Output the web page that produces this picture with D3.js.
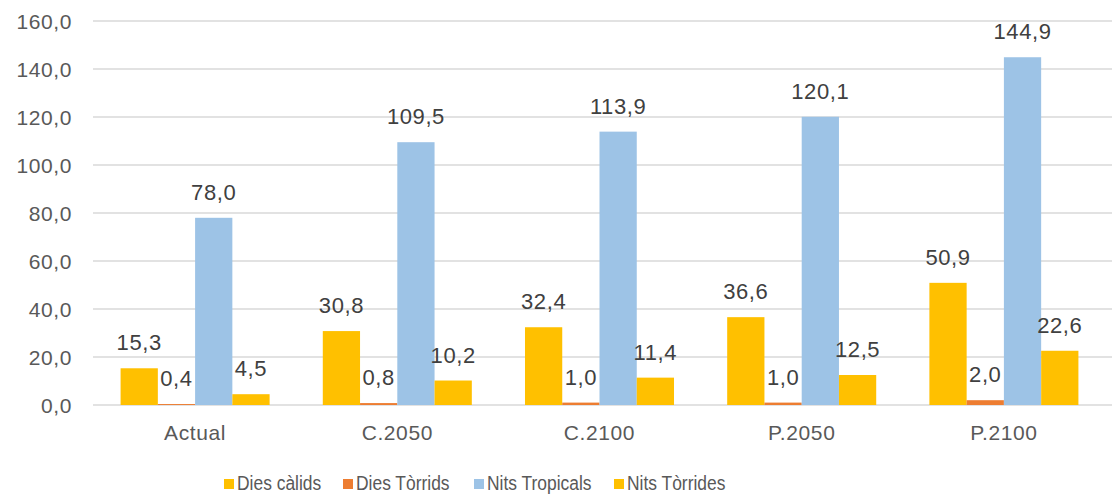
<!DOCTYPE html>
<html lang="ca">
<head>
<meta charset="UTF-8">
<script src="https://d3js.org/d3.v7.min.js"></script>
<style>
  body { margin: 0; background: #fff; }
  svg { display: block; font-family: "Liberation Sans", Arial, sans-serif; }
</style>
</head>
<body>
<svg width="1114" height="496"></svg>
<script>
const categories = ["Actual", "C.2050", "C.2100", "P.2050", "P.2100"];
const seriesNames = ["Dies càlids", "Dies Tòrrids", "Nits Tropicals", "Nits Tòrrides"];
const diesCalids = [15.3, 30.8, 32.4, 36.6, 50.9];
const diesTorrids = [0.4, 0.8, 1.0, 1.0, 2.0];
const nitsTropicals = [78.0, 109.5, 113.9, 120.1, 144.9];
const nitsTorrides = [4.5, 10.2, 11.4, 12.5, 22.6];
const yTicks = [0, 20, 40, 60, 80, 100, 120, 140, 160];

const seriesValues = [diesCalids, diesTorrids, nitsTropicals, nitsTorrides];
const colors = ["#FFC000", "#ED7D31", "#9DC3E6", "#FFC000"];
const textColor = "#595959";

const svg = d3.select("svg");
const locale = d3.formatLocale({ decimal: ",", thousands: ".", grouping: [3] });
const fmt = locale.format(".1f");

const x0 = d3.scaleBand().domain(categories).range([94, 1105]);
const bw = x0.bandwidth();
const x1 = d3.scaleBand().domain(seriesNames).range([bw * 0.1315, bw * 0.8685]);
const y = d3.scaleLinear().domain([0, 160]).range([405, 21]);

// gridlines
svg.append("g")
  .selectAll("line")
  .data(yTicks)
  .join("line")
  .attr("x1", 93).attr("x2", 1112)
  .attr("y1", d => y(d)).attr("y2", d => y(d))
  .attr("stroke", "#d9d9d9").attr("stroke-width", 1.3);

// y tick labels
svg.append("g")
  .selectAll("text")
  .data(yTicks)
  .join("text")
  .attr("x", 72)
  .attr("y", d => y(d) + 7.5)
  .attr("text-anchor", "end")
  .attr("font-size", "21px")
  .attr("letter-spacing", "0.6px")
  .attr("fill", textColor)
  .text(d => fmt(d));

// bars + labels
const rows = [];
seriesNames.forEach((s, si) => {
  categories.forEach((c, ci) => {
    rows.push({ s, si, c, v: seriesValues[si][ci] });
  });
});

svg.append("g")
  .selectAll("rect")
  .data(rows)
  .join("rect")
  .attr("x", d => x0(d.c) + x1(d.s))
  .attr("width", x1.bandwidth())
  .attr("y", d => y(d.v))
  .attr("height", d => y(0) - y(d.v))
  .attr("fill", d => colors[d.si]);

svg.append("g")
  .selectAll("text")
  .data(rows)
  .join("text")
  .attr("x", d => x0(d.c) + x1(d.s) + x1.bandwidth() / 2)
  .attr("y", d => y(d.v) - 18)
  .attr("text-anchor", "middle")
  .attr("font-size", "22px")
  .attr("letter-spacing", "0.6px")
  .attr("fill", "#404040")
  .text(d => fmt(d.v));

// category labels
svg.append("g")
  .selectAll("text")
  .data(categories)
  .join("text")
  .attr("x", d => x0(d) + bw / 2)
  .attr("y", 440)
  .attr("text-anchor", "middle")
  .attr("font-size", "21px")
  .attr("letter-spacing", "0.6px")
  .attr("fill", textColor)
  .text(d => d);

// legend
const legendX = [224, 343, 474, 614];
const legend = svg.append("g")
  .selectAll("g")
  .data(seriesNames)
  .join("g")
  .attr("transform", (d, i) => `translate(${legendX[i]}, 479)`);

legend.append("rect")
  .attr("width", 10).attr("height", 10)
  .attr("fill", (d, i) => colors[i]);

legend.append("text")
  .attr("transform", "translate(13, 10.5) scale(0.83, 1)")
  .attr("font-size", "21px")
  .attr("fill", textColor)
  .text(d => d);
</script>
</body>
</html>
